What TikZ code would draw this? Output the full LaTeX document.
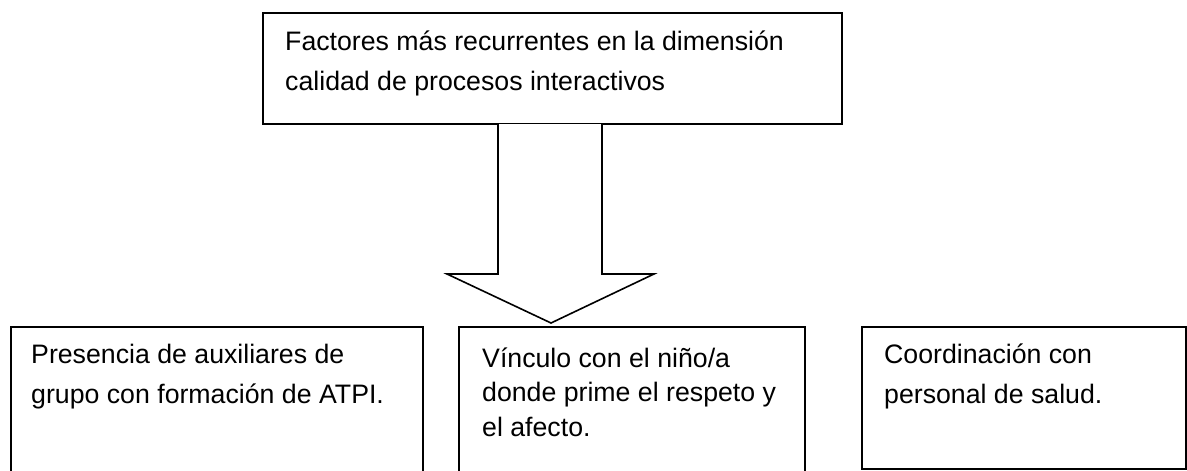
\documentclass[tikz,border=0pt]{standalone}
\usepackage{fontspec}
\setmainfont{Liberation Sans}
\begin{document}
\begin{tikzpicture}[x=1pt,y=-1pt,
  boxstyle/.style={draw=black, line width=2pt, fill=none},
  arrowstyle/.style={draw=black, line width=1.6pt, line join=miter, fill=white},
  txt/.style={anchor=base west, inner sep=0pt, font=\fontsize{26.7}{40}\selectfont},
  txtm/.style={anchor=base west, inner sep=0pt, font=\fontsize{26.7}{34.5}\selectfont}]
\useasboundingbox (0,0) rectangle (1187,471);
% top box
\draw[boxstyle] (263,13) rectangle (842,124);
\coordinate (topbox) at (552,124);
\node[txt] (ttop) at (285,50) {\begin{tabular}[t]{@{}l@{}}Factores más recurrentes en la dimensión\\calidad de procesos interactivos\end{tabular}};
% block arrow
\coordinate (sl) at (498,124);
\coordinate (sr) at (602,124);
\coordinate (tip) at (551,323);
\draw[arrowstyle] (sl) -- (498,274) -- (447,274) -- (tip) -- (654,274) -- (602,274) -- (sr);
% bottom boxes
\draw[boxstyle] (11,490) -- (11,327) -- (423,327) -- (423,490);
\node[txt] (tleft) at (31,363) {\begin{tabular}[t]{@{}l@{}}Presencia de auxiliares de\\grupo con formación de ATPI.\end{tabular}};
\draw[boxstyle] (459,490) -- (459,327) -- (805,327) -- (805,490);
\node[txtm] (tmid) at (482,367) {\begin{tabular}[t]{@{}l@{}}Vínculo con el niño/a\\donde prime el respeto y\\el afecto.\end{tabular}};
\draw[boxstyle] (862,327) rectangle (1186,469);
\node[txt] (tright) at (884,363) {\begin{tabular}[t]{@{}l@{}}Coordinación con\\personal de salud.\end{tabular}};
\end{tikzpicture}
\end{document}
